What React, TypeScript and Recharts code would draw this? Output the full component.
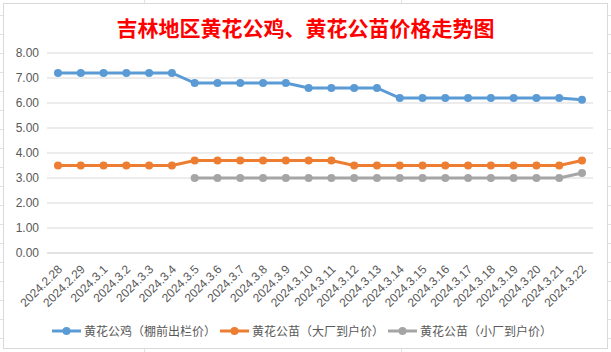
import React from 'react';
import { LineChart, Line, XAxis, YAxis, CartesianGrid } from 'recharts';

const dates = [
  '2024.2.28', '2024.2.29', '2024.3.1', '2024.3.2', '2024.3.3', '2024.3.4', '2024.3.5', '2024.3.6',
  '2024.3.7', '2024.3.8', '2024.3.9', '2024.3.10', '2024.3.11', '2024.3.12', '2024.3.13', '2024.3.14',
  '2024.3.15', '2024.3.16', '2024.3.17', '2024.3.18', '2024.3.19', '2024.3.20', '2024.3.21', '2024.3.22',
];
const roosterPrice = [
  7.2, 7.2, 7.2, 7.2, 7.2, 7.2, 6.8, 6.8, 6.8, 6.8, 6.8, 6.6, 6.6, 6.6, 6.6, 6.2,
  6.2, 6.2, 6.2, 6.2, 6.2, 6.2, 6.2, 6.13,
];
const chickBigFactory = [
  3.5, 3.5, 3.5, 3.5, 3.5, 3.5, 3.7, 3.7, 3.7, 3.7, 3.7, 3.7, 3.7, 3.5, 3.5, 3.5,
  3.5, 3.5, 3.5, 3.5, 3.5, 3.5, 3.5, 3.7,
];
const chickSmallFactory: (number | null)[] = [
  null, null, null, null, null, null, 3.0, 3.0, 3.0, 3.0, 3.0, 3.0, 3.0, 3.0, 3.0, 3.0,
  3.0, 3.0, 3.0, 3.0, 3.0, 3.0, 3.0, 3.2,
];
const yTicks = [0, 1, 2, 3, 4, 5, 6, 7, 8];

const seriesNames = ['黄花公鸡（棚前出栏价）', '黄花公苗（大厂到户价）', '黄花公苗（小厂到户价）'];
const seriesColors = ['#5B9BD5', '#ED7D31', '#A5A5A5'];
const seriesKeys = ['rooster', 'big', 'small'];

const data = dates.map((d, i) => ({
  date: d,
  rooster: roosterPrice[i],
  big: chickBigFactory[i],
  small: chickSmallFactory[i],
}));

const FONT = '"Liberation Sans", "Noto Sans", sans-serif';
const CJK = '"Noto Sans CJK SC", sans-serif';

const XTick = (props: any) => {
  const { x, y, payload } = props;
  const tx = x + 5;
  const ty = y + 9;
  return (
    <text
      x={tx}
      y={ty}
      transform={`rotate(-45 ${tx} ${ty})`}
      textAnchor="end"
      fill="#595959"
      fontSize={12}
      fontFamily={FONT}
    >
      {payload.value}
    </text>
  );
};

export default function App() {
  const rows = Array.from({ length: 18 }, (_, k) => 15 + 19 * k);
  return (
    <div style={{ position: 'fixed', left: 0, top: 0, width: 611, height: 352, background: '#fff', overflow: 'hidden' }}>
      {rows.map((r) => (
        <div key={r} style={{ position: 'absolute', left: 0, top: r, width: 611, height: 1, background: '#e1e1e1' }} />
      ))}
      {[144, 401].map((c) => (
        <div key={c} style={{ position: 'absolute', left: c, top: 0, width: 1, height: 352, background: '#e1e1e1' }} />
      ))}
      <div
        style={{
          position: 'absolute', left: 3, top: 3, width: 605, height: 346,
          border: '1px solid #d9d9d9', boxSizing: 'border-box', background: '#fff',
        }}
      />
      <div
        style={{
          position: 'absolute', left: 0, top: 13, width: 611, textAlign: 'center',
          color: '#FF0000', fontSize: 21, fontWeight: 'bold', fontFamily: CJK, lineHeight: '28px',
        }}
      >
        吉林地区黄花公鸡、黄花公苗价格走势图
      </div>
      <div style={{ position: 'absolute', left: 0, top: 0 }}>
        <LineChart width={611} height={352} data={data} margin={{ top: 53, right: 18, bottom: 39, left: 0 }}>
          <CartesianGrid vertical={false} stroke="#D9D9D9" strokeWidth={1} />
          <XAxis
            dataKey="date"
            interval={0}
            height={60}
            tickLine={false}
            axisLine={{ stroke: '#D9D9D9' }}
            padding={{ left: 11, right: 11 }}
            tick={<XTick />}
          />
          <YAxis
            width={47}
            domain={[0, 8]}
            ticks={yTicks}
            tickFormatter={(v: number) => v.toFixed(2)}
            tickLine={false}
            axisLine={false}
            tick={{ fill: '#595959', fontSize: 12, fontFamily: FONT }}
          />
          {seriesKeys.map((k, i) => (
            <Line
              key={k}
              type="linear"
              dataKey={k}
              name={seriesNames[i]}
              stroke={seriesColors[i]}
              strokeWidth={3}
              dot={{ r: 4, fill: seriesColors[i], stroke: seriesColors[i], strokeWidth: 0 }}
              isAnimationActive={false}
              connectNulls={false}
            />
          ))}
        </LineChart>
      </div>
      <div
        style={{
          position: 'absolute', left: 0, top: 322, width: 604, display: 'flex', justifyContent: 'center',
          alignItems: 'center', fontFamily: CJK, fontSize: 12, color: '#595959', lineHeight: '18px',
        }}
      >
        {seriesNames.map((n, i) => (
          <div key={n} style={{ display: 'flex', alignItems: 'center', marginRight: i < 2 ? 4 : 0 }}>
            <svg width={29} height={10} style={{ marginRight: 3 }}>
              <line x1={0} y1={5} x2={29} y2={5} stroke={seriesColors[i]} strokeWidth={3} />
              <circle cx={14.5} cy={5} r={4} fill={seriesColors[i]} />
            </svg>
            <span>{n}</span>
          </div>
        ))}
      </div>
    </div>
  );
}
